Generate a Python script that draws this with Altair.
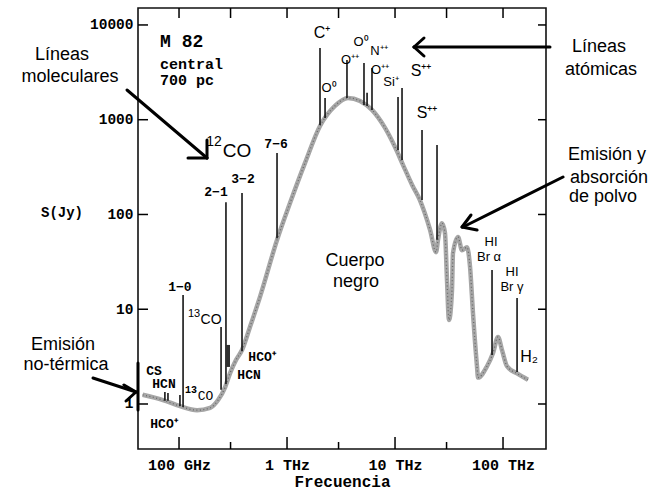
import altair as alt
import pandas as pd

# ---- spectrum of M82 (frequency in GHz, flux density in Jy) ----
curve_freq = [46, 71, 102, 147, 194, 230, 267, 297, 337, 383,
              454, 562, 808, 1066, 1468, 2020, 2780, 3670, 4740, 6120,
              8080, 10000, 11900, 14400, 17000, 21100, 24000, 25000, 27200, 29000,
              30300, 31600, 33700, 34400, 38300, 41700, 46400, 49500, 52700, 57400,
              58700, 71100, 80800, 89900, 97900, 108900, 134900, 170300]
curve_flux = [1.25, 1.10, 0.95, 0.86, 0.91, 1.10, 1.5, 2.12, 2.91, 3.71,
              6.5, 13.5, 53.8, 132, 350, 859, 1400, 1700, 1580, 1270,
              820, 515, 330, 205, 142, 69, 40, 54, 81, 64,
              20, 7.7, 16, 39, 58, 42, 45, 28, 9.1, 2.5,
              1.9, 2.5, 3.45, 5.1, 3.7, 2.5, 2.1, 1.8]

# ---- emission lines: frequency, top and base flux ----
line_freq = [74, 79, 102, 109, 245, 272, 383, 808, 2020, 2250,
             3590, 5160, 5510, 6120, 10660, 11610, 17780, 24480, 79100, 134900]
line_top = [1.34, 1.31, 1.245, 14.1, 6.5, 135, 169, 446, 5720, 1700,
            4270, 3970, 1920, 3520, 1740, 2160, 780, 542, 26.0, 13.1]
line_base = [1.08, 1.08, 0.95, 0.93, 1.41, 1.63, 3.6, 56, 880, 1043,
             1698, 1432, 1397, 1268, 480, 376, 142, 54, 3.29, 2.18]

# HCO+/HCN blend near 280 GHz
blend_freq = [284]
blend_top = [4.2]
blend_base = [2.46]

# ---- labels (text, frequency, flux) ----
mol_text = ["1−0", "2−1", "3−2", "7−6", "CS", "HCN", "HCO⁺", "HCO⁺", "HCN"]
mol_freq = [102, 220, 391, 791, 58.7, 72.6, 72.6, 587, 445]
mol_flux = [17.2, 173, 237, 555, 2.25, 1.63, 0.615, 3.13, 2.02]

iso_num = ["12", "13", "13"]
iso_num_freq = [211, 138, 129]
iso_num_flux = [582, 8.91, 1.41]
iso_co_freq = [344, 198, 176]
iso_co_flux = [468, 7.70, 1.21]

big_text = ["C⁺", "S⁺⁺", "S⁺⁺", "H₂"]
big_freq = [2109, 17400, 19780, 174000]
big_flux = [8240, 3271, 1178, 3.13]

small_text = ["O⁰", "O⁺⁺", "O⁰", "N⁺⁺", "O⁺⁺", "Si⁺", "HI", "Br α", "HI", "Br γ"]
small_freq = [2448, 3830, 4842, 7112, 7262, 9184, 77400, 74200, 121100, 121100]
small_flux = [2163, 4274, 6620, 5317, 3350, 2502, 51.3, 35.6, 24.7, 17.2]

huge_text = ["Cuerpo", "negro"]
huge_freq = [4262, 4362]
huge_flux = [32.3, 19.4]

info_text = ["M  82", "central", "700 pc"]
info_freq = [66.7, 66.7, 66.7]
info_flux = [6620, 3900, 2600]

# axis ticks
x_major = [100, 1000, 10000, 100000]
x_major_labels = ["100 GHz", "1 THz", "10 THz", "100 THz"]
x_minor = [300, 3000, 30000]
y_major = [1, 10, 100, 1000, 10000]
y_major_labels = ["1", "10", "100", "1000", "10000"]

W, H = 408, 441
MONO = "Liberation Mono"
SANS = "Liberation Sans"

xs = alt.Scale(type="log", domain=[41.7, 250000])
ys = alt.Scale(type="log", domain=[0.335, 15100])


def expr_from(vals, labels):
    e = "''"
    for v, l in zip(reversed(vals), reversed(labels)):
        e = f"datum.value == {v} ? '{l}' : ({e})"
    return e


x_axis = alt.Axis(values=x_major, labelExpr=expr_from(x_major, x_major_labels),
                  ticks=False, tickSize=0, domain=False, grid=False,
                  labelFont=MONO, labelFontWeight="bold", labelFontSize=15,
                  labelColor="black", labelPadding=8, labelFlush=False,
                  labelOverlap=False, title="Frecuencia", titleFont=MONO,
                  titleFontWeight="bold", titleFontSize=16, titleColor="black",
                  titlePadding=1)
y_axis = alt.Axis(values=y_major, labelExpr=expr_from(y_major, y_major_labels),
                  ticks=False, tickSize=0, domain=False, grid=False,
                  labelFont=MONO, labelFontWeight="bold", labelFontSize=14.5,
                  labelColor="black", labelPadding=5, labelFlush=False,
                  labelOverlap=False, title="")


def X():
    return alt.X("freq:Q", scale=xs, axis=x_axis)


def Y():
    return alt.Y("flux:Q", scale=ys, axis=y_axis)


curve_df = pd.DataFrame({"freq": curve_freq, "flux": curve_flux})
curve = alt.Chart(curve_df).mark_line(color="#a6a6a6", strokeWidth=4.5,
                                      interpolate="monotone").encode(x=X(), y=Y())
curve_tex = alt.Chart(curve_df).mark_line(color="#6a6a6a", strokeWidth=1.3,
                                          strokeDash=[1, 2.5],
                                          interpolate="monotone").encode(x=X(), y=Y())

lines_df = pd.DataFrame({"freq": line_freq, "flux": line_top, "base": line_base})
lines = alt.Chart(lines_df).mark_rule(color="#151515", strokeWidth=1.6).encode(
    x=X(), y=Y(), y2="base:Q")

blend_df = pd.DataFrame({"freq": blend_freq, "flux": blend_top, "base": blend_base})
blend = alt.Chart(blend_df).mark_rule(color="#303030", strokeWidth=4).encode(
    x=X(), y=Y(), y2="base:Q")


def labels(texts, freqs, fluxes, size, font, weight="normal", align="center"):
    df = pd.DataFrame({"t": texts, "freq": freqs, "flux": fluxes})
    return alt.Chart(df).mark_text(fontSize=size, font=font, fontWeight=weight,
                                   align=align, baseline="middle",
                                   color="black").encode(x=X(), y=Y(), text="t:N")


lab_mol = labels(mol_text, mol_freq, mol_flux, 13, MONO, "bold")
lab_iso = alt.layer(
    labels(iso_num[:1], iso_num_freq[:1], iso_num_flux[:1], 14, SANS),
    labels(["CO"], iso_co_freq[:1], iso_co_flux[:1], 19, SANS),
    labels(iso_num[1:2], iso_num_freq[1:2], iso_num_flux[1:2], 11, SANS),
    labels(["CO"], iso_co_freq[1:2], iso_co_flux[1:2], 14, SANS),
    labels(iso_num[2:], iso_num_freq[2:], iso_num_flux[2:], 10, MONO, "bold"),
    labels(["CO"], iso_co_freq[2:], iso_co_flux[2:], 13, MONO),
)
lab_big = labels(big_text, big_freq, big_flux, 16, SANS)
lab_small = labels(small_text, small_freq, small_flux, 13, SANS)
lab_huge = labels(huge_text, huge_freq, huge_flux, 18, SANS)
lab_info = alt.layer(
    labels(info_text[:1], info_freq[:1], info_flux[:1], 18, MONO, "bold", "left"),
    labels(info_text[1:], info_freq[1:], info_flux[1:], 15, MONO, "bold", "left"),
)


# inward tick marks
def xticks(vals, y1, y2):
    return alt.Chart(pd.DataFrame({"freq": vals})).mark_rule(
        color="black", strokeWidth=1.5).encode(x=X(), y=alt.value(y1), y2=alt.value(y2))


def yticks(vals, x1, x2):
    return alt.Chart(pd.DataFrame({"flux": vals})).mark_rule(
        color="black", strokeWidth=1.5).encode(y=Y(), x=alt.value(x1), x2=alt.value(x2))


ticks = alt.layer(
    xticks(x_major, H - 12, H),
    xticks(x_minor, H - 7, H),
    xticks(x_major + x_minor, 0, 10),
    yticks(y_major, 0, 10),
    yticks(y_major, W - 8, W),
)

one = alt.Data(values=[{}])


def seg(x1, y1, x2, y2, w=3):
    return alt.Chart(one).mark_rule(color="black", strokeWidth=w,
                                    strokeCap="round").encode(
        x=alt.value(x1), y=alt.value(y1), x2=alt.value(x2), y2=alt.value(y2))


def txt(s, x, y, size=18, font=SANS, weight="normal"):
    return alt.Chart(one).mark_text(text=s, fontSize=size, font=font,
                                    fontWeight=weight, align="center",
                                    baseline="middle", color="black").encode(
        x=alt.value(x), y=alt.value(y))


annotations = alt.layer(
    txt("Líneas", -76, 47), txt("moleculares", -68, 69),
    txt("Líneas", 461, 39), txt("atómicas", 463, 62),
    txt("Emisión y", 469, 147), txt("absorción", 471, 170), txt("de polvo", 465, 189),
    txt("Emisión", -75, 337), txt("no-térmica", -72, 357),
    txt("S(Jy)", -76, 205, 14, MONO, "bold"),
    # arrows
    seg(-11, 82, 69, 150), seg(50, 150, 69, 150), seg(69, 132, 69, 150),
    seg(412, 39, 276, 39), seg(276, 39, 286, 30), seg(276, 39, 286, 48),
    seg(425, 169, 325, 219), seg(324, 219, 333, 207), seg(324, 219, 339, 222),
    seg(-45, 370, -2, 384), seg(-2, 384, -14, 377), seg(-2, 384, -12, 393),
    seg(0, 355, 0, 402, 3),
)

chart = alt.layer(
    curve, curve_tex, lines, blend, lab_mol, lab_iso, lab_big, lab_small,
    lab_huge, lab_info, ticks, annotations
).properties(
    width=W, height=H,
    autosize=alt.AutoSizeParams(type="none"),
    padding={"left": 138, "top": 8, "right": 108, "bottom": 44},
    background="white",
).configure_view(stroke="#111111", strokeWidth=1.6)

chart.save("out.html", embed_options={"renderer": "svg", "actions": False})
